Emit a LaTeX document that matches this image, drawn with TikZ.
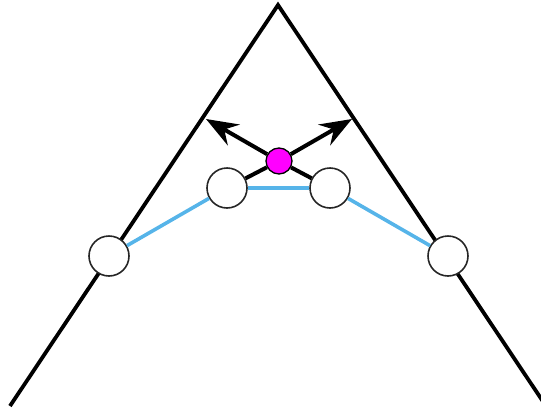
\documentclass[tikz,border=0pt]{standalone}
\usetikzlibrary{arrows.meta}
\definecolor{skyblue}{RGB}{86,180,233}
\definecolor{pullpink}{RGB}{255,0,255}
\tikzset{
  bead/.style={circle,draw=black!85,line width=1.6pt,fill=white,minimum size=40pt,inner sep=0pt},
  ring/.style={circle,draw=black,line width=1.3pt,fill=pullpink,minimum size=26pt,inner sep=0pt},
  spring/.style={skyblue,line width=3.6pt},
  rod/.style={line width=4pt},
}
\begin{document}
\begin{tikzpicture}[x=1pt,y=-1pt]
  \useasboundingbox (0,0) rectangle (541,410);
  \clip (0,0) rectangle (541,410);
  % wedge
  \coordinate (apex) at (278,5);
  \coordinate (baseL) at (10,406);
  \coordinate (baseR) at (546,406);
  \draw[line width=3.8pt,line join=miter] (baseL)--(apex)--(baseR);
  % beads on the wedge and the pulled ring
  \node[bead] (b1) at (109,256) {};
  \node[bead] (b2) at (227,188) {};
  \node[bead] (b3) at (330,188) {};
  \node[bead] (b4) at (448,256) {};
  \node[ring] (m) at (279,161) {};
  \coordinate (fL) at (206,119);
  \coordinate (fR) at (352,119);
  \draw[spring] (b1)--(b2); \draw[spring] (b2)--(b3); \draw[spring] (b3)--(b4);
  \draw[rod] (m)--(b2); \draw[rod] (m)--(b3);
  \draw[rod,-{Stealth[length=32pt,width=24pt,inset=11pt]}] (m)--(fL);
  \draw[rod,-{Stealth[length=32pt,width=24pt,inset=11pt]}] (m)--(fR);
\end{tikzpicture}
\end{document}
